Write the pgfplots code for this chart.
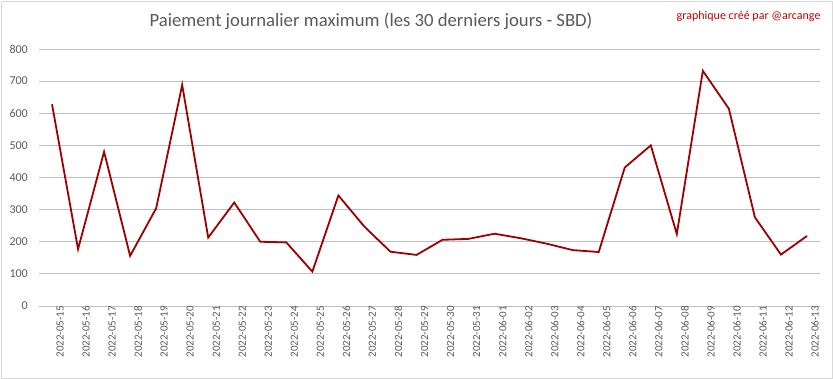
\documentclass[border=0pt]{standalone}
\usepackage{pgfplots}
\pgfplotsset{compat=1.18}
\usepackage{fontspec}
\setmainfont{Carlito}
\definecolor{txt}{HTML}{595959}
\definecolor{grid}{HTML}{D9D9D9}
\definecolor{line}{HTML}{9E0000}
\definecolor{note}{HTML}{C00000}
\begin{document}
\begin{tikzpicture}[x=1pt,y=1pt]
\draw[grid, line width=0.8pt] (1,1) rectangle (832,378);
\useasboundingbox (0,0) rectangle (833,379);
\begin{axis}[
  at={(39pt,73pt)}, anchor=south west,
  scale only axis, width=781pt, height=257pt,
  xmin=-0.5, xmax=29.5, ymin=0, ymax=800,
  ytick={0,100,...,800},
  xtick={0,...,29},
  xticklabels={2022-05-15,2022-05-16,2022-05-17,2022-05-18,2022-05-19,2022-05-20,2022-05-21,2022-05-22,2022-05-23,2022-05-24,2022-05-25,2022-05-26,2022-05-27,2022-05-28,2022-05-29,2022-05-30,2022-05-31,2022-06-01,2022-06-02,2022-06-03,2022-06-04,2022-06-05,2022-06-06,2022-06-07,2022-06-08,2022-06-09,2022-06-10,2022-06-11,2022-06-12,2022-06-13},
  x tick label style={rotate=90, anchor=east, font=\fontsize{11}{13}\selectfont, text=txt, inner sep=0pt, yshift=-8pt},
  y tick label style={font=\fontsize{12}{14}\selectfont, text=txt, inner sep=0pt, xshift=-11pt},
  /pgf/number format/assume math mode=true,
  ymajorgrids=true, xmajorgrids=false,
  grid style={grid, line width=0.8pt},
  axis line style={draw=none},
  major tick length=0pt,
  tick style={draw=none},
  clip=false,
]
\addplot[line, line width=1.8pt, mark=none] coordinates {
(0,628)(1,177)(2,480)(3,156)(4,304)(5,688)(6,213)(7,322)(8,200)(9,198)
(10,107)(11,344)(12,247)(13,169)(14,159)(15,206)(16,209)(17,225)(18,211)(19,194)
(20,174)(21,168)(22,431)(23,500)(24,224)(25,732)(26,614)(27,276)(28,160)(29,218)
};
\end{axis}
\node[text=txt, font=\fontsize{18.7}{22}\selectfont] at (371,358) {Paiement journalier maximum (les 30 derniers jours - SBD)};
\node[text=note, font=\fontsize{12}{14}\selectfont, anchor=east] at (824,363) {graphique créé par @arcange};
\end{tikzpicture}
\end{document}
